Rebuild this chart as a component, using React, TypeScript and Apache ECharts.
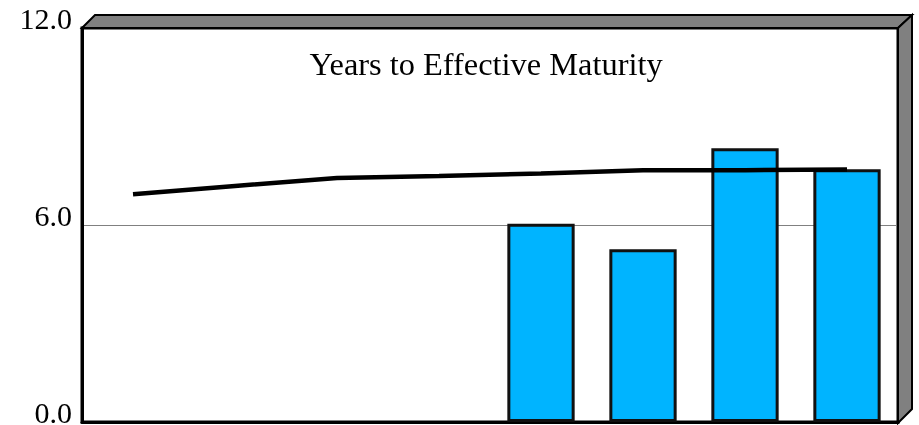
import React, { useEffect, useRef } from "react";
import * as echarts from "echarts";

const categories = ["1", "2", "3", "4", "5", "6", "7", "8"];
const barValues = [null, null, null, null, 6.04, 5.26, 8.34, 7.7];
const lineValues = [6.94, 7.19, 7.43, 7.49, 7.57, 7.67, 7.67, 7.69];
const titleText = "Years to Effective Maturity";

const FONT = "'Liberation Serif', 'Times New Roman', serif";

export default function App() {
  const ref = useRef<HTMLDivElement>(null);
  useEffect(() => {
    const chart = echarts.init(ref.current!, null, { renderer: "svg" });
    chart.setOption({
      animation: false,
      title: {
        text: titleText,
        left: 481,
        top: 43,
        textAlign: "center",
        textStyle: { fontFamily: FONT, fontSize: 32.4, fontWeight: "normal", color: "#000", lineHeight: 32 },
      },
      grid: {
        left: 82,
        right: 21,
        top: 28,
        bottom: 3,
        outerBoundsMode: "none",
        containLabel: false,
        show: true,
        borderColor: "#000",
        borderWidth: 3,
        backgroundColor: "#fff",
      },
      graphic: [
        {
          type: "polygon",
          shape: { points: [[82, 28], [95, 15], [912, 15], [898, 28]] },
          style: { fill: "#808080", stroke: "#000", lineWidth: 2 },
          z: 10,
        },
        {
          type: "polygon",
          shape: { points: [[898, 28], [912, 15], [912, 409], [898, 423]] },
          style: { fill: "#808080", stroke: "#000", lineWidth: 2 },
          z: 10,
        },
      ],
      xAxis: {
        type: "category",
        data: categories,
        axisLine: { show: true, lineStyle: { color: "#000", width: 3 } },
        axisTick: { show: false },
        axisLabel: { show: false },
      },
      yAxis: {
        type: "value",
        min: 0,
        max: 12,
        interval: 6,
        axisLine: { show: true, lineStyle: { color: "#000", width: 3 } },
        axisTick: { show: false },
        splitLine: { show: true, lineStyle: { color: "#808080", width: 1 } },
        axisLabel: {
          formatter: (v: number) => v.toFixed(1),
          fontFamily: FONT,
          fontSize: 30,
          color: "#000",
          margin: 10,
          verticalAlign: "bottom",
          lineHeight: 20,
        },
      },
      series: [
        {
          type: "bar",
          data: barValues,
          barCategoryGap: "34%",
          itemStyle: { color: "#00B4FF", borderColor: "#111", borderWidth: 3 },
          z: 2,
        },
        {
          type: "line",
          data: lineValues,
          showSymbol: false,
          symbol: "none",
          lineStyle: { color: "#000", width: 4.5 },
          z: 3,
        },
      ],
    });
    return () => chart.dispose();
  }, []);
  return (
    <div
      ref={ref}
      style={{ position: "fixed", left: 0, top: 0, width: 919, height: 425 }}
    />
  );
}
